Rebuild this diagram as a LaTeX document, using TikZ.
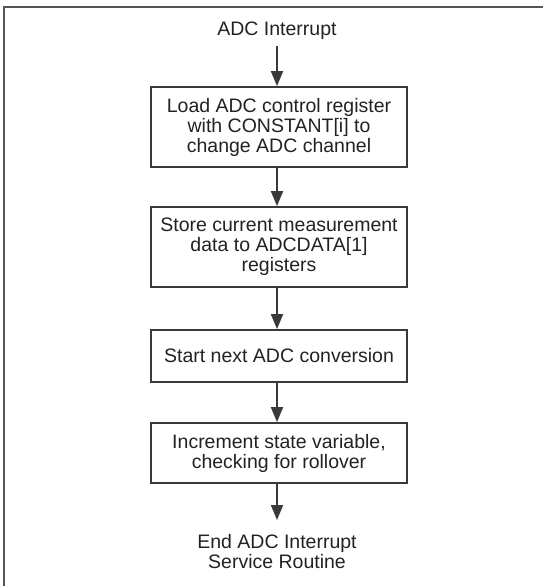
\documentclass[tikz,border=0pt]{standalone}
\usepackage{fontspec}
\setmainfont{Liberation Sans}
\usetikzlibrary{arrows.meta}
\definecolor{linegray}{HTML}{3A3A3A}
\definecolor{framegray}{HTML}{555555}
\definecolor{txt}{HTML}{222222}
\tikzset{
  flowbox/.style={draw=linegray, line width=1.8pt, minimum width=256pt, inner sep=0pt, align=center, text=txt,
    font=\fontsize{19.5}{20}\selectfont},
  termtext/.style={inner sep=0pt, align=center, text=txt, font=\fontsize{19.5}{20}\selectfont},
  flowarrow/.style={draw=linegray, line width=1.8pt, -{Triangle[length=15pt,width=12pt]}},
  frameline/.style={draw=framegray, line width=2pt}
}
\begin{document}
\begin{tikzpicture}[x=1pt,y=1pt]
\useasboundingbox (0,0) rectangle (543,-586);
\draw[frameline] (4,-587) -- (4,-7) -- (544,-7);
\node[termtext, anchor=base] (start) at (277,-35.7) {ADC Interrupt};
\node[flowbox, minimum height=80pt] (b1) at (279,-127) {Load ADC control register\\with CONSTANT[i] to\\change ADC channel};
\node[flowbox, minimum height=80pt] (b2) at (279,-247) {Store current measurement\\data to ADCDATA[1]\\registers};
\node[flowbox, minimum height=52pt] (b3) at (279,-356) {Start next ADC conversion};
\node[flowbox, minimum height=60pt] (b4) at (279,-453) {Increment state variable,\\checking for rollover};
\node[termtext, anchor=north] (finish) at (277,-534) {End ADC Interrupt\\Service Routine};
\draw[flowarrow] ([yshift=-10.3pt]start.base) -- ([xshift=-2pt]b1.north);
\draw[flowarrow] ([xshift=-2pt]b1.south) -- ([xshift=-2pt]b2.north);
\draw[flowarrow] ([xshift=-2pt]b2.south) -- ([xshift=-2pt]b3.north);
\draw[flowarrow] ([xshift=-2pt]b3.south) -- ([xshift=-2pt]b4.north);
\draw[flowarrow] ([xshift=-2pt]b4.south) -- ([yshift=14pt]finish.north);
\end{tikzpicture}
\end{document}
